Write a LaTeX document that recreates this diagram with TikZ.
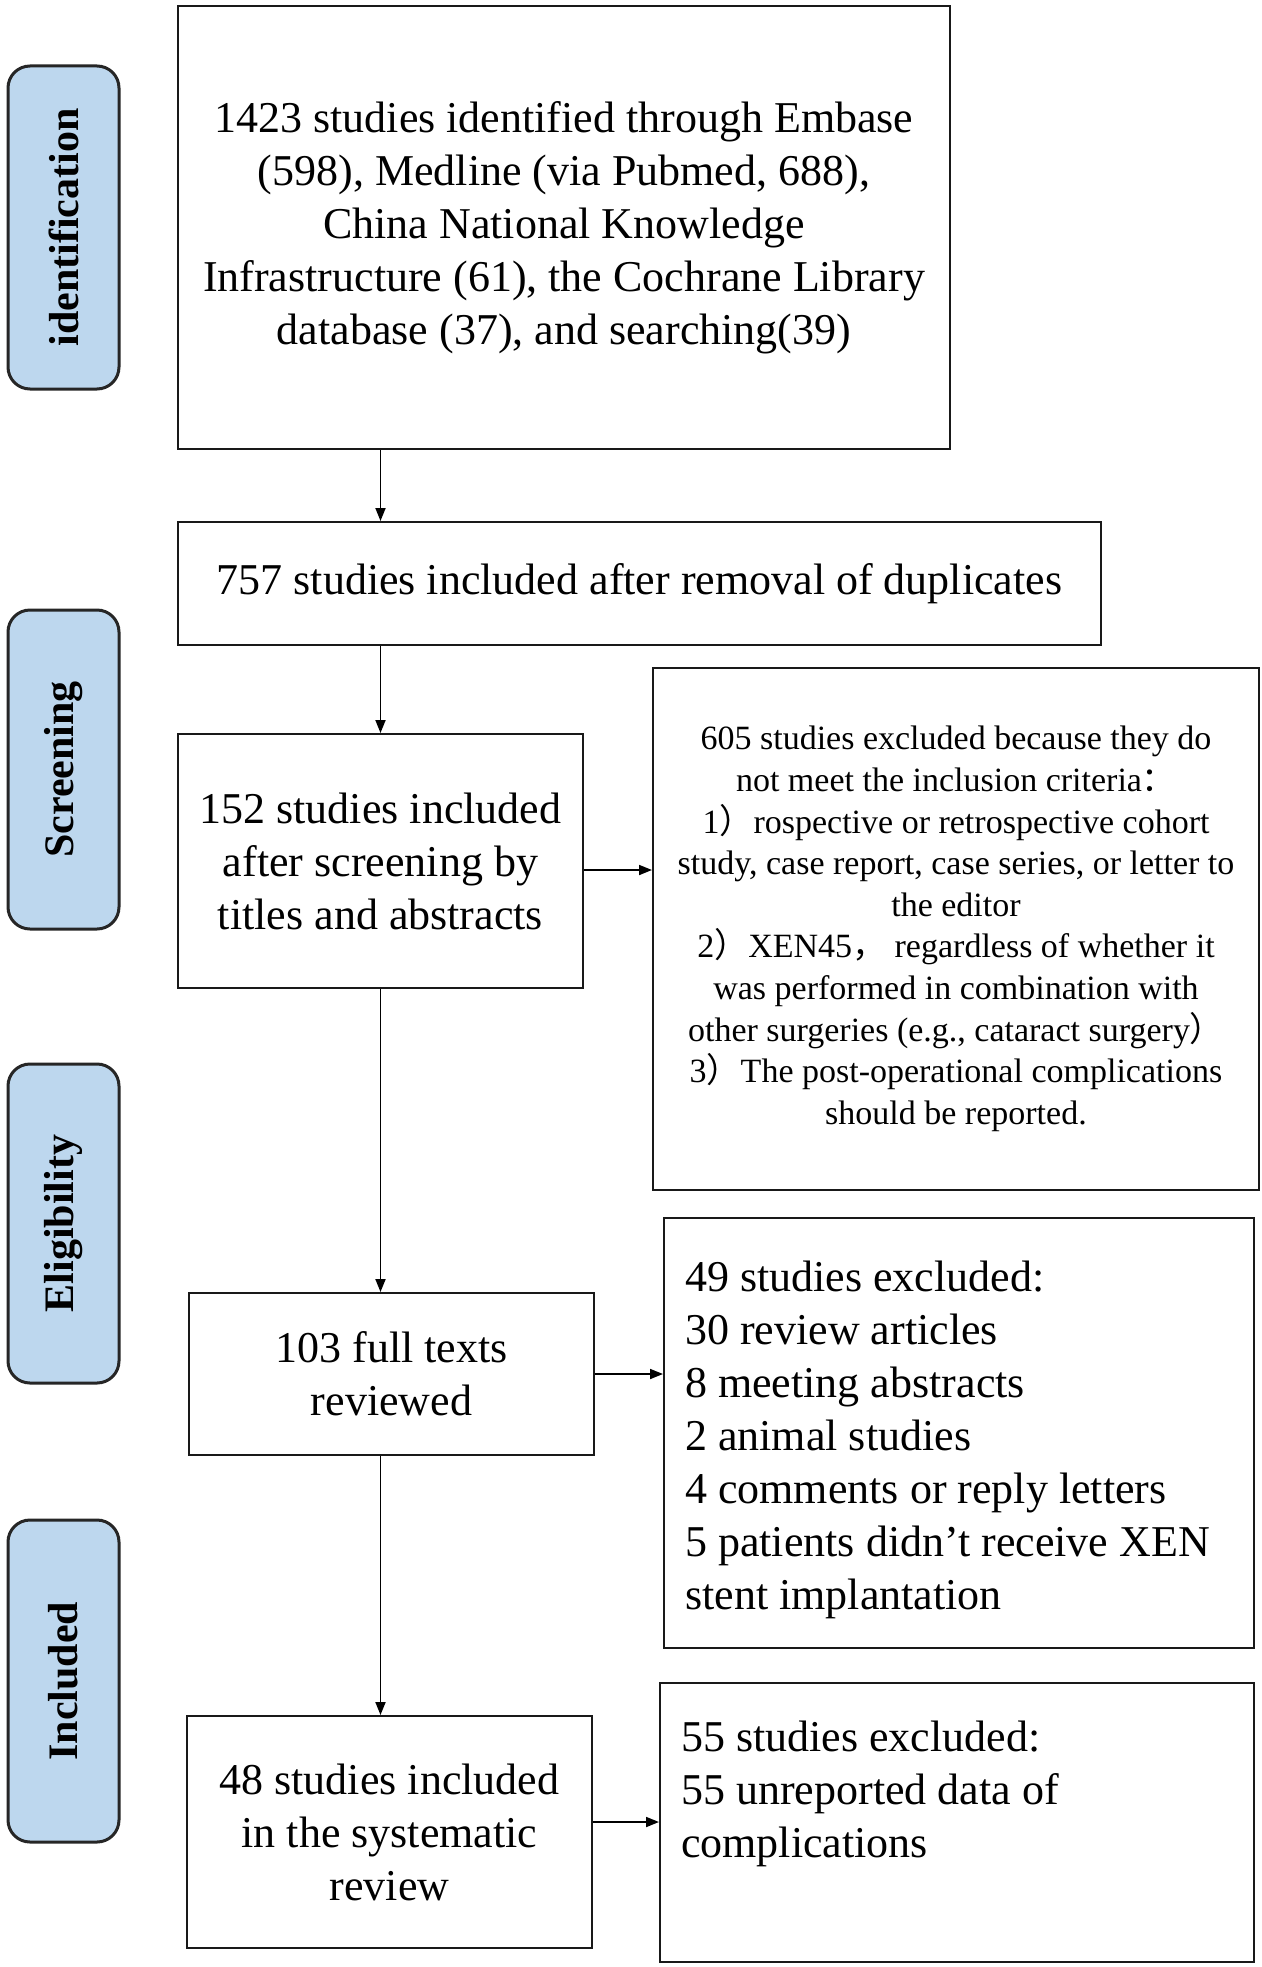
\documentclass[tikz,border=0pt]{standalone}
\usepackage{fontspec}
\setmainfont{Liberation Serif}
\newfontfamily\cjk{Noto Sans CJK SC}
\usetikzlibrary{arrows.meta,calc}
\definecolor{lblue}{HTML}{BDD7EE}
\begin{document}
\begin{tikzpicture}[x=1pt,y=1pt,
  box/.style={draw=black!90, line width=2pt, align=center, inner sep=0pt, font=\fontsize{44}{53}\selectfont},
  smallbox/.style={box, font=\fontsize{34}{41.6}\selectfont},
  plain/.style={inner sep=0pt, align=left, anchor=west, font=\fontsize{44}{53}\selectfont},
  lab/.style={draw=black!85, line width=3pt, fill=lblue, rounded corners=22pt, rotate=90, font=\bfseries\fontsize{42}{50}\selectfont},
  arr/.style={-{Triangle[length=13pt,width=10pt]}, line width=1.8pt, draw=black}]
\useasboundingbox (0,0) rectangle (1261,-1967);
\fill[white] (0,0) rectangle (1261,-1967);
% stage labels
\node[lab, minimum width=323, minimum height=111] (L1) at (63.5,-227.5) {identification};
\node[lab, minimum width=319, minimum height=111] (L2) at (63.5,-769.5) {Screening};
\node[lab, minimum width=319, minimum height=111] (L3) at (63.5,-1223.5) {Eligibility};
\node[lab, minimum width=322, minimum height=111] (L4) at (63.5,-1681) {Included};
% boxes
\node[box, minimum width=772, minimum height=443] (b1) at (564,-227.5)
  {1423 studies identified through Embase\\(598), Medline (via Pubmed, 688),\\China National Knowledge\\Infrastructure (61), the Cochrane Library\\database (37), and searching(39)};
\node[box, minimum width=923, minimum height=123] (b2) at (639.5,-583.5)
  {757 studies included after removal of duplicates};
\node[box, minimum width=405, minimum height=254] (b3) at (380.5,-861)
  {152 studies included\\after screening by\\titles and abstracts};
\node[smallbox, minimum width=606, minimum height=522] (b4) at (956,-929)
  {605 studies excluded because they do\\not meet the inclusion criteria{\cjk ：}\\1{\cjk ）}rospective or retrospective cohort\\study, case report, case series, or letter to\\the editor\\2{\cjk ）}XEN45{\cjk ，} regardless of whether it\\was performed in combination with\\other surgeries (e.g., cataract surgery{\cjk ）}\\3{\cjk ）}The post-operational complications\\should be reported.};
\node[box, minimum width=405, minimum height=162] (b5) at (391.5,-1374)
  {103 full texts\\reviewed};
\node[box, minimum width=590, minimum height=430] (b6) at (959,-1433) {};
\node[plain] (t6) at (685,-1440)
  {49 studies excluded:\\30 review articles\\8 meeting abstracts\\2 animal studies\\4 comments or reply letters\\5 patients didn’t receive XEN\\stent implantation};
\node[box, minimum width=405, minimum height=232] (b7) at (389.5,-1832)
  {48 studies included\\in the systematic\\review};
\node[box, minimum width=594, minimum height=279] (b8) at (957,-1822.5) {};
\node[plain] (t8) at (681,-1794)
  {55 studies excluded:\\55 unreported data of\\complications};
% arrows
\draw[arr] (b3.north |- b1.south) -- (b3.north |- b2.north);
\draw[arr] (b3.north |- b2.south) -- (b3.north);
\draw[arr] ($(b3.east)+(0,-9)$) -- ($(b3.east -| b4.west)+(0,-9)$);
\draw[arr] (b3.south) -- (b3.south |- b5.north);
\draw[arr] (b5.east) -- (b5.east -| b6.west);
\draw[arr] (b3.south |- b5.south) -- (b3.south |- b7.north);
\draw[arr] ($(b7.east)+(0,10)$) -- ($(b7.east -| b8.west)+(0,10)$);
\end{tikzpicture}
\end{document}
